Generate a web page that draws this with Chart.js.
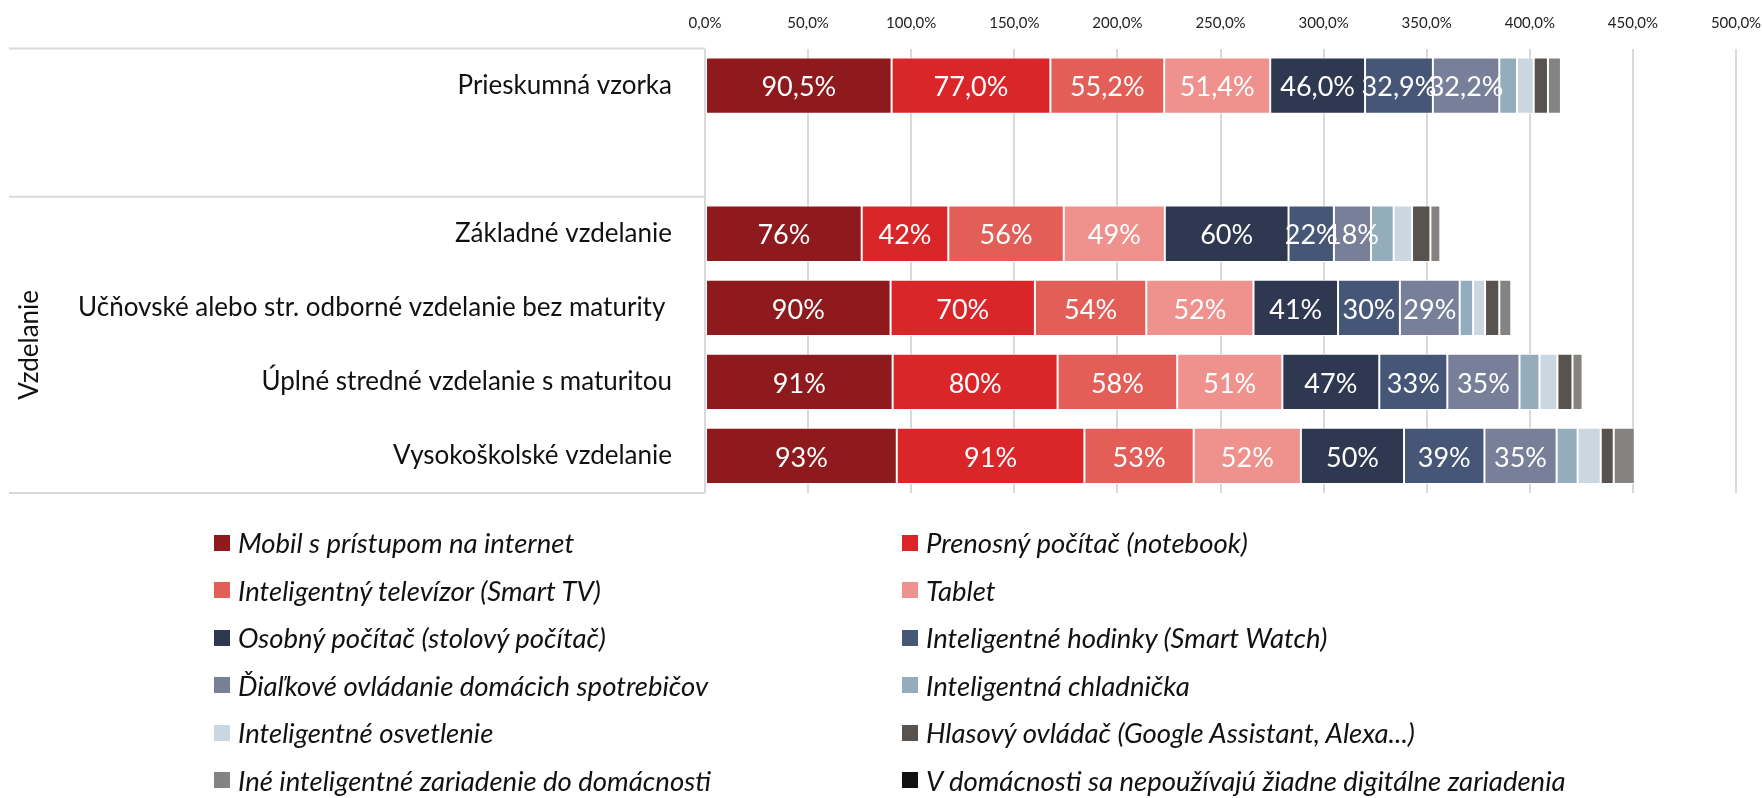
<!DOCTYPE html>
<html>
<head>
<meta charset="utf-8">
<script src="https://cdn.jsdelivr.net/npm/chart.js"></script>
<style>
body { margin: 0; background: #fff; }
#wrap { position: relative; width: 1762px; height: 798px; }
#legenda { position: absolute; left: 214px; top: 519px; display: grid; grid-template-columns: 688px auto; }
.polozka { display: flex; align-items: center; height: 47.5px; font: italic 27.5px Lato; color: #111; white-space: nowrap; }
.stvorec { width: 16px; height: 16px; margin-right: 8px; flex: none; }
</style>
</head>
<body>
<div id="wrap">
  <canvas id="graf"></canvas>
  <div id="legenda"></div>
</div>
<script>
// kategorie (druhy riadok je prazdny - medzera medzi vzorkou a skupinou)
const kategorie = ['Prieskumná vzorka', '', 'Základné vzdelanie', 'Učňovské alebo str. odborné vzdelanie bez maturity ', 'Úplné stredné vzdelanie s maturitou', 'Vysokoškolské vzdelanie']
const skupina = 'Vzdelanie'

const zariadenia = [
    'Mobil s prístupom na internet',
    'Prenosný počítač (notebook)',
    'Inteligentný televízor (Smart TV)',
    'Tablet',
    'Osobný počítač (stolový počítač)',
    'Inteligentné hodinky (Smart Watch)',
    'Ďiaľkové ovládanie domácich spotrebičov',
    'Inteligentná chladnička',
    'Inteligentné osvetlenie',
    'Hlasový ovládač (Google Assistant, Alexa...)',
    'Iné inteligentné zariadenie do domácnosti',
    'V domácnosti sa nepoužívajú žiadne digitálne zariadenia'
]

const farby = ['#8e1a1e', '#da2628', '#e45e58', '#ef928d', '#2e3850', '#465676', '#778098', '#94adbd', '#cad7e0', '#58534f', '#848381', '#111111']

// hodnoty v % pre kazdu kategoriu
const mobil = [90.5, null, 76, 90, 91, 93]
const notebook = [77.0, null, 42, 70, 80, 91]
const televizor = [55.2, null, 56, 54, 58, 53]
const tablet = [51.4, null, 49, 52, 51, 52]
const pocitac = [46.0, null, 60, 41, 47, 50]
const hodinky = [32.9, null, 22, 30, 33, 39]
const ovladanie = [32.2, null, 18, 29, 35, 35]
const chladnicka = [8.6, null, 11.0, 6.5, 9.7, 10.2]
const osvetlenie = [8.1, null, 8.9, 5.8, 8.7, 11.2]
const hlasovy = [6.9, null, 8.9, 6.9, 7.3, 6.3]
const ine = [6.3, null, 4.8, 5.8, 4.9, 10.2]
const ziadne = [0, null, 0, 0, 0, 0]
const hodnoty = [mobil, notebook, televizor, tablet, pocitac, hodinky, ovladanie, chladnicka, osvetlenie, hlasovy, ine, ziadne]

// popisky iba pre prvych 7 radov
const sPopiskom = 7
const osX = { min: 0, max: 500, krok: 50 }

const datasets = hodnoty.map((h, i) => ({
    label: zariadenia[i],
    data: h,
    backgroundColor: farby[i],
    borderColor: 'rgba(255,255,255,0.85)',
    borderWidth: 1,
    borderSkipped: false
}))

const popisky = {
    id: 'popisky',
    afterDatasetsDraw(chart) {
        const ctx = chart.ctx
        ctx.save()
        ctx.fillStyle = '#fff'
        ctx.font = '27px Lato'
        ctx.textAlign = 'center'
        ctx.textBaseline = 'middle'
        chart.data.datasets.forEach((ds, i) => {
            if (i >= sPopiskom) return
            chart.getDatasetMeta(i).data.forEach((bar, j) => {
                const v = ds.data[j]
                if (v == null) return
                const txt = j === 0 ? v.toFixed(1).replace('.', ',') + '%' : Math.round(v) + '%'
                const p = bar.getCenterPoint()
                ctx.fillText(txt, p.x, p.y + 2)
            })
        })
        ctx.restore()
    }
}

const skupiny = {
    id: 'skupiny',
    afterDraw(chart) {
        const { ctx, chartArea, scales } = chart
        const y = scales.y
        const hranica = (y.getPixelForValue(1) + y.getPixelForValue(2)) / 2
        ctx.save()
        ctx.strokeStyle = '#d9d9d9'
        ctx.lineWidth = 2
        ;[chartArea.top, hranica, chartArea.bottom].forEach(yy => {
            ctx.beginPath()
            ctx.moveTo(9, yy)
            ctx.lineTo(chartArea.left, yy)
            ctx.stroke()
        })
        ctx.translate(30, (hranica + chartArea.bottom) / 2)
        ctx.rotate(-Math.PI / 2)
        ctx.fillStyle = '#111'
        ctx.font = '26px Lato'
        ctx.textAlign = 'center'
        ctx.textBaseline = 'middle'
        ctx.fillText(skupina, 0, 0)
        ctx.restore()
    }
}

const canvas = document.getElementById('graf')
canvas.width = 1762
canvas.height = 798

new Chart(canvas, {
    type: 'bar',
    data: { labels: kategorie, datasets: datasets },
    options: {
        indexAxis: 'y',
        responsive: false,
        animation: false,
        barPercentage: 0.76,
        categoryPercentage: 1,
        layout: { padding: { top: 0, right: 26, bottom: 305, left: 0 } },
        plugins: { legend: { display: false }, tooltip: { enabled: false } },
        scales: {
            x: {
                position: 'top',
                stacked: true,
                min: osX.min,
                max: osX.max,
                ticks: {
                    stepSize: osX.krok,
                    color: '#222',
                    font: { family: 'Lato', size: 15 },
                    padding: 16,
                    callback: v => v.toFixed(1).replace('.', ',') + '%'
                },
                grid: { color: '#d9d9d9', lineWidth: 2, drawTicks: false },
                border: { display: false },
                afterFit: s => { s.height = 45; s.paddingLeft = 0; s.paddingRight = 0 }
            },
            y: {
                stacked: true,
                ticks: { color: '#111', font: { family: 'Lato', size: 26 }, padding: 33, autoSkip: false },
                grid: { display: false, drawTicks: false },
                border: { display: false },
                afterFit: s => { s.width = 705 }
            }
        }
    },
    plugins: [popisky, skupiny]
})

// legenda v dvoch stlpcoch
const legenda = document.getElementById('legenda')
zariadenia.forEach((z, i) => {
    const el = document.createElement('div')
    el.className = 'polozka'
    el.innerHTML = `<span class="stvorec" style="background:${farby[i]}"></span>${z}`
    legenda.append(el)
})
</script>
</body>
</html>
